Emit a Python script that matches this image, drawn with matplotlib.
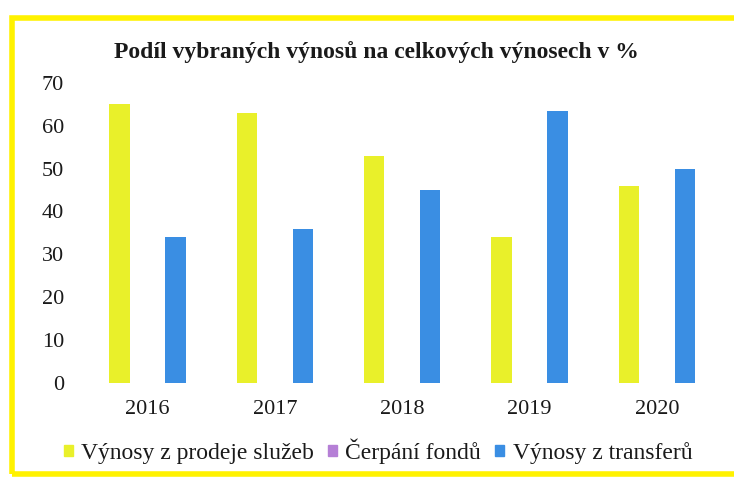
import numpy as np
import matplotlib.pyplot as plt
from matplotlib.patches import Rectangle

# data
years = ['2016', '2017', '2018', '2019', '2020']
prodej_sluzeb = [65, 63, 53, 34, 46]
cerpani_fondu = [0, 0, 0, 0, 0]
transfery = [34, 36, 45, 63.5, 50]
series_names = ['Výnosy z prodeje služeb', 'Čerpání fondů', 'Výnosy z transferů']
colors = ['#e9f02a', '#b57fd6', '#3a8ee3']

plt.rcParams['font.family'] = ['Liberation Serif', 'DejaVu Serif']

fig = plt.figure(figsize=(7.34, 4.84), dpi=100)
ax = fig.add_axes([0.114, 0.209, 0.868, 0.62])

x = np.arange(len(years))
w = 0.16
off = 0.22
ax.bar(x - off, prodej_sluzeb, w, color=colors[0])
ax.bar(x, cerpani_fondu, w, color=colors[1])
ax.bar(x + off, transfery, w, color=colors[2])

ax.set_xlim(-0.5, 4.5)
ax.set_ylim(0, 70)
ax.set_yticks(range(0, 71, 10))
ax.set_xticks(x)
ax.set_xticklabels(years)
ax.tick_params(axis='both', length=0, labelsize=16, colors='#1a1a1a')
ax.tick_params(axis='y', pad=14)
ax.tick_params(axis='x', pad=12)
for s in ax.spines.values():
    s.set_visible(False)

fig.text(0.513, 0.893, 'Podíl vybraných výnosů na celkových výnosech v %',
         ha='center', va='center', fontsize=17, fontweight='bold', color='#1a1a1a')

# legend with small square markers
handles = [Rectangle((0, 0), 1, 1, color=c) for c in colors]
fig.legend(handles, series_names, loc='center', bbox_to_anchor=(0.515, 0.068), ncol=3,
           frameon=False, fontsize=17, handlelength=0.38, handleheight=0.38,
           handletextpad=0.35, columnspacing=0.6, labelcolor='#1a1a1a')

# yellow scan frame
fig.patches.append(Rectangle((12 / 734, 1 - 474 / 484), 1.1, (474 - 18) / 484,
                             transform=fig.transFigure, fill=False,
                             edgecolor='#fff200', linewidth=4, clip_on=False))

fig.savefig('out.png', dpi=100)
